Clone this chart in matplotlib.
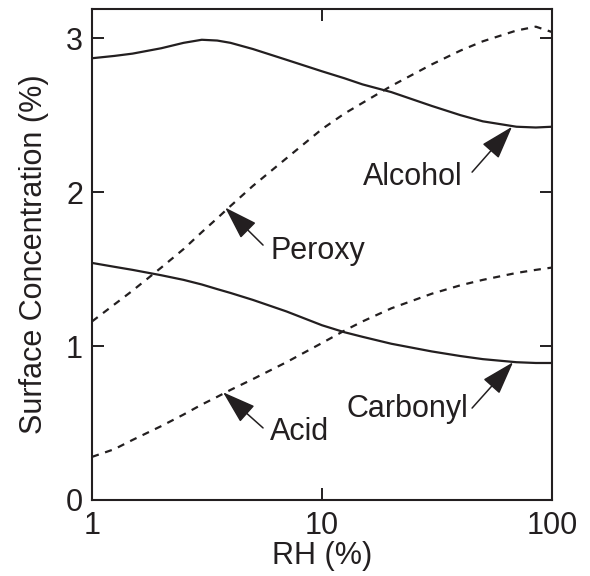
import matplotlib

matplotlib.use("Agg")
import matplotlib.pyplot as plt

# relative humidity grid (%) shared by all four species
rh = [1, 1.25, 1.5, 2, 2.5, 3, 3.5, 4, 5, 7, 10, 12.5, 15, 20, 30, 40, 50, 70, 85, 100]

# surface concentrations (%)
alcohol = [2.87, 2.885, 2.90, 2.935, 2.97, 2.99, 2.985, 2.97, 2.93, 2.86,
           2.785, 2.74, 2.70, 2.65, 2.56, 2.50, 2.46, 2.425, 2.42, 2.425]
peroxy = [1.16, 1.27, 1.36, 1.51, 1.63, 1.74, 1.83, 1.91, 2.04, 2.22,
          2.41, 2.51, 2.58, 2.69, 2.83, 2.92, 2.98, 3.05, 3.075, 3.04]
carbonyl = [1.54, 1.515, 1.495, 1.46, 1.43, 1.40, 1.37, 1.345, 1.30, 1.225,
            1.135, 1.09, 1.06, 1.015, 0.965, 0.935, 0.915, 0.895, 0.89, 0.89]
acid = [0.28, 0.33, 0.39, 0.48, 0.555, 0.62, 0.67, 0.715, 0.785, 0.895,
        1.02, 1.10, 1.16, 1.245, 1.34, 1.395, 1.43, 1.475, 1.495, 1.51]

# label text, arrow tip (on curve), arrow tail, text anchor (left, baseline)
labels = ["Alcohol", "Peroxy", "Acid", "Carbonyl"]
tips = [(67, 2.425), (3.79, 1.90), (3.71, 0.70), (67.7, 0.895)]
tails = [(44.9, 2.13), (5.54, 1.656), (5.54, 0.468), (44.9, 0.597)]
text_pos = [(15.07, 2.045), (5.94, 1.565), (5.94, 0.39), (12.8, 0.54)]

INK = "#231f20"

plt.rcParams["font.family"] = ["Liberation Sans", "DejaVu Sans"]
plt.rcParams["font.size"] = 22
plt.rcParams["text.color"] = INK
plt.rcParams["axes.labelcolor"] = INK

fig = plt.figure(figsize=(5.9, 5.76), dpi=100, facecolor="white")
ax = fig.add_axes([0.156, 0.132, 0.7797, 0.8524])

ax.plot(rh, alcohol, color=INK, lw=1.6, solid_capstyle="butt")
ax.plot(rh, carbonyl, color=INK, lw=1.6, solid_capstyle="butt")
ax.plot(rh, peroxy, color=INK, lw=1.6, dashes=(3.2, 3.0))
ax.plot(rh, acid, color=INK, lw=1.6, dashes=(3.2, 3.0))

arrow = dict(arrowstyle="-|>,head_length=1.05,head_width=0.34", color=INK,
             lw=1.1, shrinkA=0, shrinkB=0, mutation_scale=20)
for name, tip, tail, pos in zip(labels, tips, tails, text_pos):
    ax.annotate("", xy=tip, xytext=tail, arrowprops=arrow)
    ax.text(pos[0], pos[1], name, ha="left", va="baseline")

ax.set_xscale("log")
ax.set_xlim(1, 100)
ax.set_ylim(0, 3.19)
ax.set_xticks([1, 10, 100])
ax.set_xticklabels(["1", "10", "100"])
ax.set_yticks([0, 1, 2, 3])
ax.minorticks_off()

ax.tick_params(axis="both", direction="in", length=8.6, width=1.4, color=INK,
               labelcolor=INK, top=True, right=True)
ax.tick_params(axis="x", pad=8)
ax.tick_params(axis="y", pad=6.5)
for s in ax.spines.values():
    s.set_linewidth(1.5)
    s.set_color(INK)

ax.set_xlabel("RH (%)", labelpad=0)
ax.set_ylabel("Surface Concentration (%)", labelpad=12)

fig.savefig("out.png", dpi=100, facecolor="white")
